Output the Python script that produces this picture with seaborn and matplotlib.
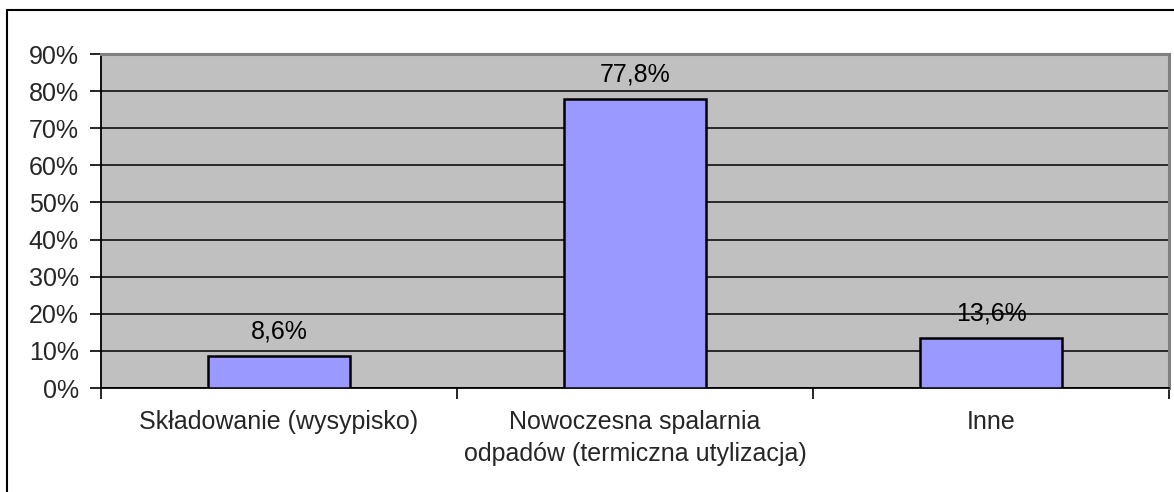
import matplotlib
matplotlib.use("Agg")
import matplotlib.pyplot as plt
from matplotlib.lines import Line2D
from matplotlib.ticker import FixedLocator, FuncFormatter
import seaborn as sns
import pandas as pd

# data
categories = ["Składowanie (wysypisko)",
              "Nowoczesna spalarnia\nodpadów (termiczna utylizacja)",
              "Inne"]
shares = [8.6, 77.8, 13.6]
y_ticks = [0, 10, 20, 30, 40, 50, 60, 70, 80, 90]

df = pd.DataFrame({"kategoria": categories, "udzial": shares})

sns.set_style("white")
plt.rcParams["font.family"] = ["Liberation Sans", "DejaVu Sans"]
FS = 18

fig = plt.figure(figsize=(11.74, 4.92), dpi=100)
ax = fig.add_axes([101 / 1174, 1 - 388 / 492, 1068 / 1174, 334 / 492])
ax.set_facecolor("#C0C0C0")

sns.barplot(data=df, x="kategoria", y="udzial", color="#9999FF",
            edgecolor="black", linewidth=1.8, width=0.4, saturation=1,
            ax=ax, zorder=3)

ax.set_xlim(-0.5, 2.5)
ax.set_ylim(0, 90)
ax.set_yticks(y_ticks)
ax.yaxis.set_major_formatter(FuncFormatter(lambda v, _: f"{v:.0f}%"))
ax.yaxis.grid(True, color="black", linewidth=1.1, zorder=1)
ax.set_axisbelow(True)
ax.set_xlabel("")
ax.set_ylabel("")

# x ticks at category boundaries, labels at centers
ax.xaxis.set_minor_locator(FixedLocator([-0.5, 0.5, 1.5, 2.5]))
ax.tick_params(axis="x", which="major", length=0, pad=16, labelsize=FS)
ax.tick_params(axis="x", which="minor", length=8, width=1.2, color="black",
               direction="out", bottom=True)
ax.tick_params(axis="y", length=8, width=1.2, color="black",
               direction="out", left=True, pad=8, labelsize=FS)
for lab in ax.get_xticklabels():
    lab.set_multialignment("center")
    lab.set_linespacing(1.4)

for side in ["left", "bottom"]:
    ax.spines[side].set_color("black")
    ax.spines[side].set_linewidth(1.3)
for side in ["top", "right"]:
    ax.spines[side].set_color("#808080")
    ax.spines[side].set_linewidth(2.2)

for i, v in enumerate(shares):
    ax.annotate(f"{v:.1f}%".replace(".", ","), (i, v), xytext=(0, 9),
                textcoords="offset points", ha="center", va="bottom",
                fontsize=FS, color="black")

# outer chart border (cropped on right and bottom)
fig.add_artist(Line2D([7 / 1174, 1], [1 - 10 / 492, 1 - 10 / 492],
                      transform=fig.transFigure, color="black", linewidth=1.5))
fig.add_artist(Line2D([7 / 1174, 7 / 1174], [0, 1 - 10 / 492],
                      transform=fig.transFigure, color="black", linewidth=1.5))

fig.savefig("out.png", dpi=100)
